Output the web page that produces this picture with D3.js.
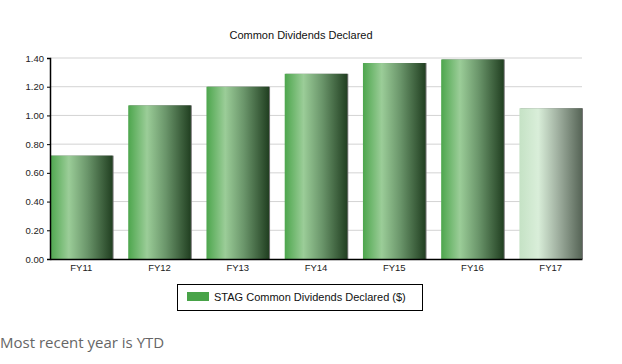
<!DOCTYPE html>
<html>
<head>
<meta charset="utf-8">
<script src="https://cdn.jsdelivr.net/npm/d3@7"></script>
<style>
  body { margin: 0; background: #fff; }
  svg { display: block; }
</style>
</head>
<body>
<script>
const years = ["FY11", "FY12", "FY13", "FY14", "FY15", "FY16", "FY17"];
const dividends = [0.72, 1.07, 1.2, 1.29, 1.365, 1.39, 1.05];
const yTicks = [0, 0.2, 0.4, 0.6, 0.8, 1.0, 1.2, 1.4];
const ytdYear = "FY17";

const w = 622;
const h = 364;
const plotLeft = 50, plotRight = 582, plotTop = 58, plotBottom = 259;

const svg = d3.select("body").append("svg").attr("width", w).attr("height", h);

// gradients for the cylinder look
const defs = svg.append("defs");
function addGrad(id, stops) {
  const g = defs.append("linearGradient").attr("id", id)
    .attr("x1", "0%").attr("x2", "100%").attr("y1", "0%").attr("y2", "0%");
  stops.forEach((s) => g.append("stop").attr("offset", s[0]).attr("stop-color", s[1]));
}
addGrad("barGrad", [["0%", "#4da64d"], ["30%", "#9bcd98"], ["60%", "#6a956a"], ["100%", "#213f21"]]);
addGrad("ytdGrad", [["0%", "#c5e2c5"], ["30%", "#d9eed9"], ["60%", "#a3b3a3"], ["100%", "#566456"]]);

const xScale = d3.scaleBand().domain(years).range([plotLeft, plotRight]).paddingInner(0.2).paddingOuter(0);
const yScale = d3.scaleLinear().domain([0, 1.4]).range([plotBottom, plotTop]);

// title
svg.append("text")
  .attr("x", 301).attr("y", 39)
  .attr("text-anchor", "middle")
  .style("font-family", "Liberation Sans, Arial, sans-serif")
  .style("font-size", "11px")
  .attr("fill", "#111")
  .text("Common Dividends Declared");

// gridlines
svg.append("g")
  .selectAll("line")
  .data(yTicks.slice(1))
  .enter()
  .append("line")
  .attr("x1", plotLeft).attr("x2", plotRight)
  .attr("y1", (d) => yScale(d)).attr("y2", (d) => yScale(d))
  .attr("stroke", "#d3d3d3");

// bars
const bars = svg.append("g").selectAll("g").data(years).enter().append("g");
bars.append("rect")
  .attr("x", (d) => xScale(d) + 1)
  .attr("y", (d, i) => yScale(dividends[i]))
  .attr("width", xScale.bandwidth())
  .attr("height", (d, i) => plotBottom - yScale(dividends[i]))
  .attr("fill", "#777");
bars.append("rect")
  .attr("x", (d) => xScale(d))
  .attr("y", (d, i) => yScale(dividends[i]))
  .attr("width", xScale.bandwidth())
  .attr("height", (d, i) => plotBottom - yScale(dividends[i]))
  .attr("fill", (d) => (d === ytdYear ? "url(#ytdGrad)" : "url(#barGrad)"));

// axes
const yAxis = d3.axisLeft(yScale).tickValues(yTicks).tickFormat(d3.format(".2f")).tickSize(3);
const gy = svg.append("g").attr("transform", "translate(" + plotLeft + ",0)").call(yAxis);
gy.select(".domain").attr("stroke", "#000").attr("stroke-width", 1.5);
gy.selectAll("text")
  .style("font-family", "Liberation Sans, Arial, sans-serif")
  .style("font-size", "9.5px").attr("fill", "#222");

const xAxis = d3.axisBottom(xScale).tickSize(0).tickPadding(5);
const gx = svg.append("g").attr("transform", "translate(0," + plotBottom + ")").call(xAxis);
gx.select(".domain").attr("stroke", "#000").attr("stroke-width", 1.5);
gx.selectAll("text")
  .style("font-family", "Liberation Sans, Arial, sans-serif")
  .style("font-size", "9.5px").attr("fill", "#222");

// legend
const legend = svg.append("g");
legend.append("rect")
  .attr("x", 177.5).attr("y", 284.5).attr("width", 245).attr("height", 26)
  .attr("fill", "#fff").attr("stroke", "#000");
legend.append("rect")
  .attr("x", 187).attr("y", 292).attr("width", 22).attr("height", 9)
  .attr("fill", "#48a348");
legend.append("text")
  .attr("x", 214).attr("y", 301)
  .style("font-family", "Liberation Sans, Arial, sans-serif")
  .style("font-size", "11px")
  .attr("fill", "#111")
  .text("STAG Common Dividends Declared ($)");

// footnote
svg.append("text")
  .attr("x", 0).attr("y", 348)
  .style("font-family", "Open Sans, sans-serif")
  .style("font-size", "15px")
  .attr("fill", "#666")
  .text("Most recent year is YTD");
</script>
</body>
</html>
